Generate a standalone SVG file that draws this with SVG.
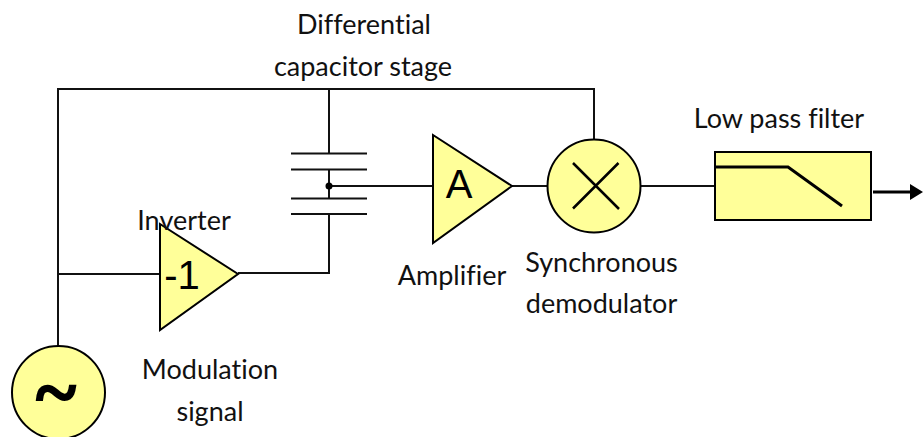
<svg xmlns="http://www.w3.org/2000/svg" width="923" height="437" viewBox="0 0 923 437">
<style>
.w{fill:none;stroke:#111;stroke-width:2}
.n{fill:#ffff99;stroke:#000;stroke-width:2;stroke-linejoin:miter}
.l{font-family:Lato,"Open Sans",sans-serif;font-size:27px;font-variant-ligatures:none;fill:#111;text-anchor:middle}
.s{font-family:"Liberation Sans",Arial,sans-serif;font-size:40px;fill:#000;text-anchor:middle}
.t{fill:none;stroke:#000;stroke-width:3}
</style>
<defs><marker id="ah" markerUnits="userSpaceOnUse" markerWidth="14" markerHeight="16" refX="1" refY="8" orient="auto" overflow="visible"><path d="M0 0L13 8L0 16Z" fill="#000"/></marker></defs>
<rect width="923" height="437" fill="#fff"/>
<g id="connectors">
<path class="w" d="M58 346V89H594V140"/>
<path class="w" d="M58 274H160"/>
<path class="w" d="M329 89V153.500"/>
<path class="w" d="M329 169.500V198.500"/>
<path class="w" d="M329 214V273H238"/>
<path class="w" d="M329 186H433"/>
<path class="w" d="M512 186H548"/>
<path class="w" d="M641 186H715"/>
<path d="M873 192H911" fill="none" stroke="#000" stroke-width="3" marker-end="url(#ah)"/>
</g>
<g id="capacitor-stage">
<path class="w" d="M291 153.500H367M291 169.500H367M291 198.500H367M291 214H367"/>
<circle cx="329" cy="186" r="3.500" fill="#000"/>
<text class="l" x="364" y="34">Differential</text>
<text class="l" x="363" y="76">capacitor stage</text>
</g>
<g id="modulation-signal">
<circle class="n" cx="58.500" cy="392.500" r="46.500"/>
<text x="56" y="418" font-family="Liberation Serif,serif" font-weight="bold" font-size="76" text-anchor="middle" fill="#000" stroke="#000" stroke-width="2">~</text>
<text class="l" x="210" y="379">Modulation</text>
<text class="l" x="210" y="421">signal</text>
</g>
<g id="inverter">
<path class="n" d="M160 224V330L238 274Z"/>
<text class="s" x="182" y="289">-1</text>
<text class="l" x="184" y="230">Inverter</text>
</g>
<g id="amplifier">
<path class="n" d="M433 135V243L512 186Z"/>
<text class="s" x="459" y="198">A</text>
<text class="l" x="452" y="285">Amplifier</text>
</g>
<g id="demodulator">
<circle class="n" cx="594" cy="186" r="46.500"/>
<path d="M573 163L619 209M618.500 163L573 208.500" fill="none" stroke="#000" stroke-width="2.500"/>
<text class="l" x="601.500" y="272">Synchronous</text>
<text class="l" x="601.500" y="313">demodulator</text>
</g>
<g id="low-pass-filter">
<rect class="n" x="715" y="152" width="156" height="68"/>
<path class="t" d="M715 167H788L842 206"/>
<text class="l" x="779" y="128">Low pass filter</text>
</g>
</svg>
